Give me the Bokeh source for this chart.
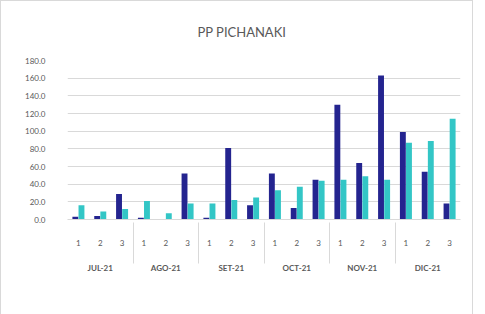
from bokeh.plotting import figure
from bokeh.models import (FactorRange, ColumnDataSource, Legend, LegendItem,
                          NumeralTickFormatter, FixedTicker, Range1d)
from bokeh.transform import dodge
from bokeh.embed import file_html
from bokeh.resources import INLINE

months = ["JUL-21", "AGO-21", "SET-21", "OCT-21", "NOV-21", "DIC-21"]
subs = ["1", "2", "3"]
pp = [3, 4, 29, 2, 0, 52, 2, 81, 16, 52, 13, 45, 130, 64, 163, 99, 54, 18]
pp_nor = [16, 9, 12, 21, 7, 18, 18, 22, 25, 33, 37, 44, 45, 49, 45, 87, 89, 114]
y_ticks = [0, 20, 40, 60, 80, 100, 120, 140, 160, 180]

factors = [(m, s) for m in months for s in subs]
src = ColumnDataSource(dict(x=factors, pp=pp, pp_nor=pp_nor))

FONT = "Lato"
GRAY = "#595959"

p = figure(frame_width=393, frame_height=159, output_backend="svg",
           toolbar_location=None,
           x_range=FactorRange(*factors, factor_padding=0, group_padding=0,
                               range_padding=0),
           y_range=Range1d(0, 180),
           min_border_left=66, min_border_right=12, min_border_top=59,
           min_border_bottom=0, title="PP PICHANAKI")
p.styles = {"border": "1px solid #d9d9d9"}

r1 = p.vbar(x=dodge("x", -0.14, range=p.x_range), top="pp", width=0.27,
            source=src, color="#24248f", line_color=None)
r2 = p.vbar(x=dodge("x", 0.14, range=p.x_range), top="pp_nor", width=0.27,
            source=src, color="#33c6c6", line_color=None)

p.title.align = "left"
p.title.offset = 130
p.title.vertical_align = "top"
p.title.text_font = FONT
p.title.text_font_size = "13px"
p.title.text_font_style = "normal"
p.title.text_color = GRAY
p.title.standoff = 38

p.outline_line_color = None
p.xgrid.grid_line_color = None
p.ygrid.grid_line_color = "#d9d9d9"

p.yaxis.ticker = FixedTicker(ticks=y_ticks)
p.yaxis.formatter = NumeralTickFormatter(format="0.0")
p.yaxis.axis_line_color = None
p.yaxis.major_tick_line_color = None
p.yaxis.minor_tick_line_color = None
p.yaxis.major_label_text_font = FONT
p.yaxis.major_label_text_font_size = "8px"
p.yaxis.major_label_text_color = GRAY
p.yaxis.major_label_standoff = 16

p.xaxis.axis_line_color = "#d9d9d9"
p.xaxis.major_tick_line_color = None
p.xaxis.minor_tick_line_color = None
p.xaxis.major_label_text_font = FONT
p.xaxis.major_label_text_font_size = "8px"
p.xaxis.major_label_text_color = GRAY
p.xaxis.major_label_standoff = 14
p.xaxis.group_text_font = FONT
p.xaxis.group_text_font_size = "8px"
p.xaxis.group_text_color = GRAY
p.xaxis.separator_line_color = "#d9d9d9"
p.xaxis.separator_line_width = 1

legend = Legend(items=[LegendItem(label="PP", renderers=[r1]),
                       LegendItem(label="PP NOR", renderers=[r2])],
                orientation="horizontal", location="center",
                label_text_font=FONT, label_text_font_size="8px",
                label_text_color=GRAY, glyph_width=7, glyph_height=7,
                label_standoff=3, spacing=12, border_line_color=None,
                background_fill_alpha=0, padding=3, margin=-22,
                label_height=8)
p.add_layout(legend, "below")

open("out.html", "w").write(file_html(p, INLINE))
